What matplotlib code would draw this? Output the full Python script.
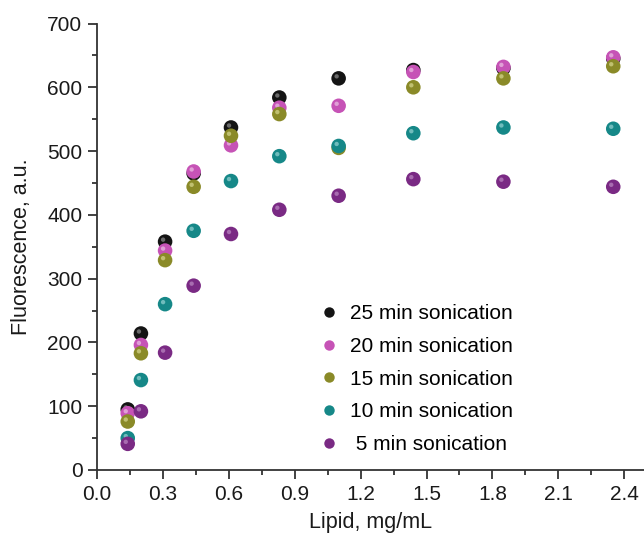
import matplotlib
matplotlib.use("Agg")
import matplotlib.pyplot as plt
import matplotlib.transforms as mtransforms
from matplotlib.ticker import MultipleLocator, FormatStrFormatter
from matplotlib.lines import Line2D

lipid = [0.14, 0.2, 0.31, 0.44, 0.61, 0.83, 1.1, 1.44, 1.85, 2.35]
f25 = [95, 214, 358, 465, 537, 584, 614, 627, 630, 645]
f20 = [89, 196, 344, 468, 509, 568, 571, 624, 632, 647]
f15 = [76, 183, 329, 444, 524, 558, 505, 600, 614, 633]
f10 = [50, 141, 260, 375, 453, 492, 508, 528, 537, 535]
f5 = [41, 92, 184, 289, 370, 408, 430, 456, 452, 444]

labels = ["25 min sonication", "20 min sonication", "15 min sonication",
          "10 min sonication", " 5 min sonication"]
colors = ["#141414", "#c653b6", "#8a8a28", "#168888", "#7a2a84"]
highlights = ["#6a6a6a", "#e0a0d6", "#c0c070", "#70bcbc", "#a86cb0"]
series = [f25, f20, f15, f10, f5]

plt.rcParams['font.family'] = ['Liberation Sans', 'DejaVu Sans']

fig = plt.figure(figsize=(6.44, 5.38), dpi=100)
ax = fig.add_axes([0.1506, 0.1264, 0.8494, 0.8299])

off = mtransforms.ScaledTranslation(-2/100, 2/100, fig.dpi_scale_trans)
for ys, c, h in zip(series, colors, highlights):
    ax.scatter(lipid, ys, s=110, color=c, edgecolors='none', zorder=3)
    ax.scatter(lipid, ys, s=10, color=h, edgecolors='none', zorder=3,
               transform=ax.transData + off)

ax.set_xlim(0, 2.49)
ax.set_ylim(0, 700)
ax.xaxis.set_major_locator(MultipleLocator(0.3))
ax.xaxis.set_minor_locator(MultipleLocator(0.15))
ax.yaxis.set_major_locator(MultipleLocator(100))
ax.yaxis.set_minor_locator(MultipleLocator(50))
ax.xaxis.set_major_formatter(FormatStrFormatter('%.1f'))

for s in ['top', 'right']:
    ax.spines[s].set_visible(False)
for s in ['left', 'bottom']:
    ax.spines[s].set_linewidth(1.3)
    ax.spines[s].set_color('#333333')
ax.tick_params(which='major', direction='out', length=6.5, width=1.3, color='#333333',
               labelsize=15, labelcolor='#1a1a1a', pad=4)
ax.tick_params(which='minor', direction='out', length=3.5, width=1.3, color='#333333')

ax.set_xlabel("Lipid, mg/mL", fontsize=15.5, color='#1a1a1a', labelpad=6)
ax.set_ylabel("Fluorescence, a.u.", fontsize=15.5, color='#1a1a1a', labelpad=11)

handles = [Line2D([], [], marker='o', linestyle='none', markersize=7.5,
                  markerfacecolor=c, markeredgecolor='none') for c in colors]
leg = ax.legend(handles, labels, loc='upper left', bbox_to_anchor=(0.3905, 0.39),
                frameon=False, fontsize=15, handletextpad=0.5, labelspacing=0.66,
                handlelength=1.0, borderaxespad=0)

fig.savefig("out.png", dpi=100)
